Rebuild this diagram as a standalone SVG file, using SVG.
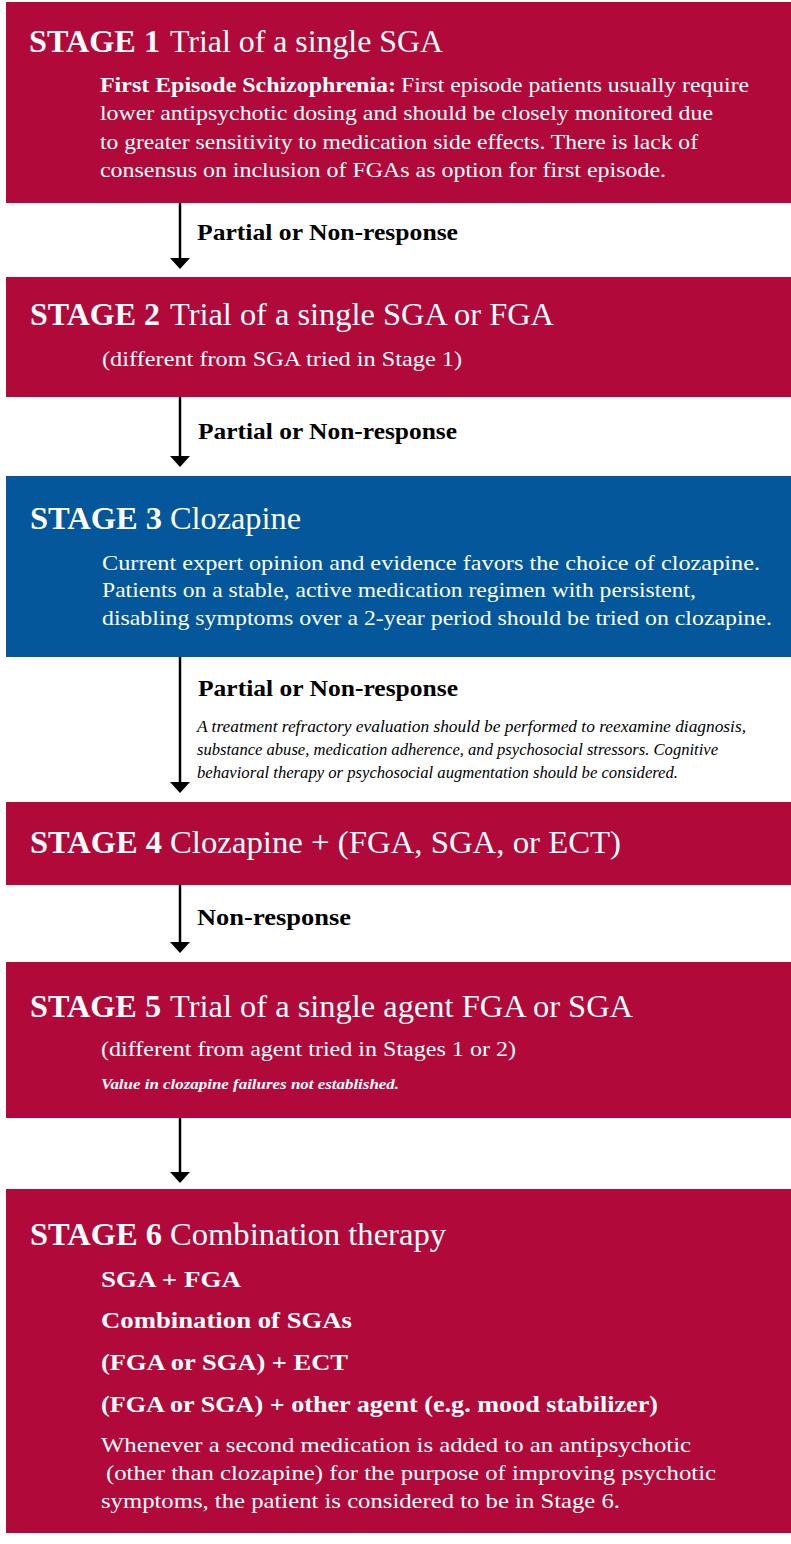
<svg xmlns="http://www.w3.org/2000/svg" width="791" height="1544" viewBox="0 0 791 1544">
<defs>
<marker id="ah" viewBox="0 -10 11 20" refX="0" refY="0" markerWidth="11" markerHeight="20" markerUnits="userSpaceOnUse" orient="auto">
<path d="M0,-10 L11,0 L0,10 z" fill="#000"/>
</marker>
</defs>
<style>
.red{fill:#B0093A}
.blue{fill:#03579A}
text{font-family:"Liberation Serif","Times New Roman",serif}
.t{fill:#fff;font-size:32px}
.tb{font-weight:bold}
.b{fill:#fff;font-size:22px}
.bb{fill:#fff;font-size:24px;font-weight:bold}
.lab{fill:#000;font-size:23px;font-weight:bold}
.it{fill:#000;font-size:16px;font-style:italic}
.iw{fill:#fff;font-size:15px;font-style:italic;font-weight:bold}
.conn{stroke:#000;stroke-width:2.5;fill:none;marker-end:url(#ah)}
</style>
<rect width="791" height="1544" fill="#fff"/>
<g id="stage1">
<rect class="red" x="6" y="2" width="785" height="201"/>
<text class="t" y="52"><tspan class="tb" x="29" textLength="131" lengthAdjust="spacingAndGlyphs">STAGE 1</tspan><tspan x="170" textLength="273" lengthAdjust="spacingAndGlyphs">Trial of a single SGA</tspan></text>
<text class="b" y="92"><tspan class="tb" x="100" textLength="296" lengthAdjust="spacingAndGlyphs">First Episode Schizophrenia:</tspan><tspan x="401" textLength="348" lengthAdjust="spacingAndGlyphs">First episode patients usually require</tspan></text>
<text class="b" x="100" y="120" textLength="613" lengthAdjust="spacingAndGlyphs">lower antipsychotic dosing and should be closely monitored due</text>
<text class="b" x="100" y="149" textLength="598" lengthAdjust="spacingAndGlyphs">to greater sensitivity to medication side effects. There is lack of</text>
<text class="b" x="100" y="177" textLength="566" lengthAdjust="spacingAndGlyphs">consensus on inclusion of FGAs as option for first episode.</text>
</g>
<g id="stage2">
<rect class="red" x="6" y="277" width="785" height="120"/>
<text class="t" y="325"><tspan class="tb" x="30" textLength="130" lengthAdjust="spacingAndGlyphs">STAGE 2</tspan><tspan x="170" textLength="384" lengthAdjust="spacingAndGlyphs">Trial of a single SGA or FGA</tspan></text>
<text class="b" x="102" y="366" textLength="360" lengthAdjust="spacingAndGlyphs">(different from SGA tried in Stage 1)</text>
</g>
<g id="stage3">
<rect class="blue" x="6" y="476" width="785" height="181"/>
<text class="t" y="529"><tspan class="tb" x="30" textLength="132" lengthAdjust="spacingAndGlyphs">STAGE 3</tspan><tspan x="170" textLength="131" lengthAdjust="spacingAndGlyphs">Clozapine</tspan></text>
<text class="b" x="102" y="570" textLength="658" lengthAdjust="spacingAndGlyphs">Current expert opinion and evidence favors the choice of clozapine.</text>
<text class="b" x="102" y="597" textLength="594" lengthAdjust="spacingAndGlyphs">Patients on a stable, active medication regimen with persistent,</text>
<text class="b" x="102" y="625" textLength="670" lengthAdjust="spacingAndGlyphs">disabling symptoms over a 2-year period should be tried on clozapine.</text>
</g>
<g id="stage4">
<rect class="red" x="6" y="802" width="785" height="83"/>
<text class="t" y="853"><tspan class="tb" x="30" textLength="132" lengthAdjust="spacingAndGlyphs">STAGE 4</tspan><tspan x="170" textLength="451" lengthAdjust="spacingAndGlyphs">Clozapine + (FGA, SGA, or ECT)</tspan></text>
</g>
<g id="stage5">
<rect class="red" x="6" y="962" width="785" height="156"/>
<text class="t" y="1017"><tspan class="tb" x="30" textLength="131" lengthAdjust="spacingAndGlyphs">STAGE 5</tspan><tspan x="170" textLength="463" lengthAdjust="spacingAndGlyphs">Trial of a single agent FGA or SGA</tspan></text>
<text class="b" x="101" y="1056" textLength="415" lengthAdjust="spacingAndGlyphs">(different from agent tried in Stages 1 or 2)</text>
<text class="iw" x="101" y="1089" textLength="298" lengthAdjust="spacingAndGlyphs">Value in clozapine failures not established.</text>
</g>
<g id="stage6">
<rect class="red" x="6" y="1189" width="785" height="344"/>
<text class="t" y="1245"><tspan class="tb" x="30" textLength="132" lengthAdjust="spacingAndGlyphs">STAGE 6</tspan><tspan x="170" textLength="276" lengthAdjust="spacingAndGlyphs">Combination therapy</tspan></text>
<text class="bb" x="101" y="1287" textLength="140" lengthAdjust="spacingAndGlyphs">SGA + FGA</text>
<text class="bb" x="101" y="1328" textLength="251" lengthAdjust="spacingAndGlyphs">Combination of SGAs</text>
<text class="bb" x="101" y="1370" textLength="247" lengthAdjust="spacingAndGlyphs">(FGA or SGA) + ECT</text>
<text class="bb" x="101" y="1412" textLength="557" lengthAdjust="spacingAndGlyphs">(FGA or SGA) + other agent (e.g. mood stabilizer)</text>
<text class="b" x="101" y="1452" textLength="590" lengthAdjust="spacingAndGlyphs">Whenever a second medication is added to an antipsychotic</text>
<text class="b" x="106" y="1480" textLength="610" lengthAdjust="spacingAndGlyphs">(other than clozapine) for the purpose of improving psychotic</text>
<text class="b" x="101" y="1508" textLength="519" lengthAdjust="spacingAndGlyphs">symptoms, the patient is considered to be in Stage 6.</text>
</g>
<g id="connectors">
<line class="conn" x1="180" y1="203" x2="180" y2="258"/>
<line class="conn" x1="180" y1="397" x2="180" y2="456"/>
<line class="conn" x1="180" y1="657" x2="180" y2="782"/>
<line class="conn" x1="180" y1="885" x2="180" y2="942"/>
<line class="conn" x1="180" y1="1118" x2="180" y2="1172"/>
<text class="lab" x="197" y="240" textLength="261" lengthAdjust="spacingAndGlyphs">Partial or Non-response</text>
<text class="lab" x="198" y="439" textLength="259" lengthAdjust="spacingAndGlyphs">Partial or Non-response</text>
<text class="lab" x="198" y="696" textLength="260" lengthAdjust="spacingAndGlyphs">Partial or Non-response</text>
<text class="it" x="197" y="732" textLength="549" lengthAdjust="spacingAndGlyphs">A treatment refractory evaluation should be performed to reexamine diagnosis,</text>
<text class="it" x="197" y="755" textLength="521" lengthAdjust="spacingAndGlyphs">substance abuse, medication adherence, and psychosocial stressors. Cognitive</text>
<text class="it" x="197" y="778" textLength="481" lengthAdjust="spacingAndGlyphs">behavioral therapy or psychosocial augmentation should be considered.</text>
<text class="lab" x="197" y="925" textLength="154" lengthAdjust="spacingAndGlyphs">Non-response</text>
</g>
</svg>
